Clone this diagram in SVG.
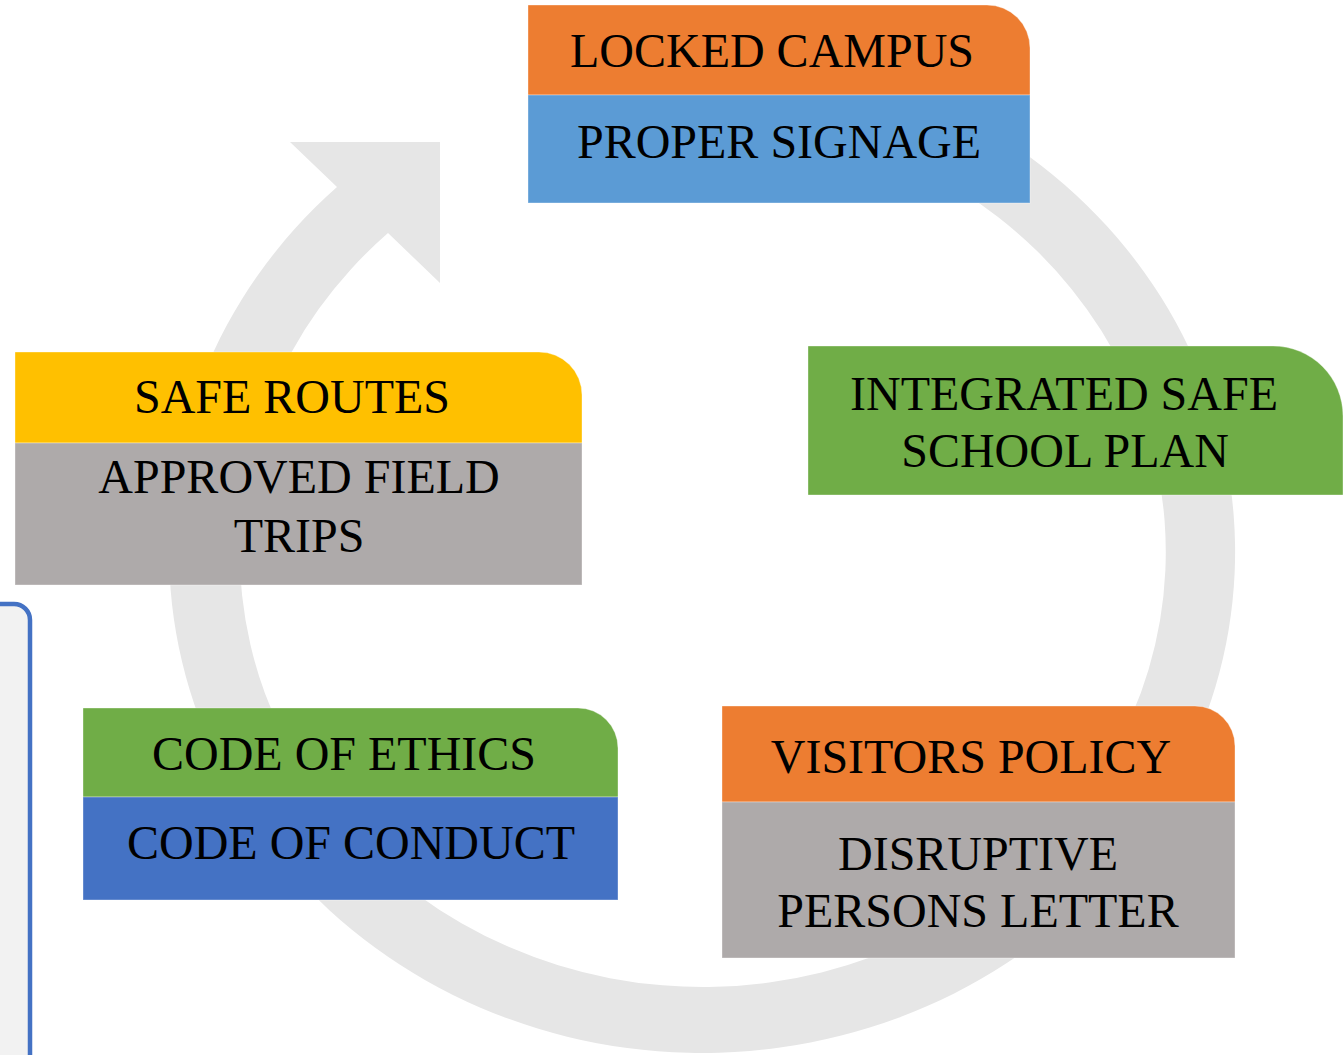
<svg xmlns="http://www.w3.org/2000/svg" width="1343" height="1055" viewBox="0 0 1343 1055">
<style>
.t{font-family:"Liberation Serif","Times New Roman",serif;font-size:48px;fill:#000;text-anchor:middle}
.edge{stroke:#ffffff;stroke-opacity:0.35;stroke-width:1}
</style>
<rect width="1343" height="1055" fill="#ffffff"/>
<g id="side-panel">
<rect x="-30" y="604" width="60" height="480" rx="16" fill="#F2F2F2" stroke="#4472C4" stroke-width="4.5"/>
</g>
<g id="connectors">
<path d="M702 51 A533 501 0 1 1 337 187 L290 142 L440 142 L440 283 L388 233 A463 435 0 1 0 702 117 Z" fill="#E6E6E6"/>
</g>
<g id="node-locked-campus">
<path class="edge" d="M528 5 H987 A43 43 0 0 1 1030 48 V95 H528 Z" fill="#ED7D31"/>
<rect class="edge" x="528" y="95" width="502" height="108" fill="#5B9BD5"/>
<text class="t" x="772" y="67">LOCKED CAMPUS</text>
<text class="t" x="779" y="158">PROPER SIGNAGE</text>
</g>
<g id="node-safe-routes">
<path class="edge" d="M15 352 H539 A43 43 0 0 1 582 395 V443 H15 Z" fill="#FFC000"/>
<rect class="edge" x="15" y="443" width="567" height="142" fill="#AEAAAA"/>
<text class="t" x="292" y="413">SAFE ROUTES</text>
<text class="t" x="299" y="493">APPROVED FIELD</text>
<text class="t" x="299" y="552">TRIPS</text>
</g>
<g id="node-integrated-plan">
<path class="edge" d="M808 346 H1273 A70 70 0 0 1 1343 416 V495 H808 Z" fill="#70AD47"/>
<text class="t" x="1064" y="410">INTEGRATED SAFE</text>
<text class="t" x="1065" y="467">SCHOOL PLAN</text>
</g>
<g id="node-code-of-ethics">
<path class="edge" d="M83 708 H578 A40 40 0 0 1 618 748 V797 H83 Z" fill="#70AD47"/>
<rect class="edge" x="83" y="797" width="535" height="103" fill="#4472C4"/>
<text class="t" x="344" y="770">CODE OF ETHICS</text>
<text class="t" x="351" y="859">CODE OF CONDUCT</text>
</g>
<g id="node-visitors-policy">
<path class="edge" d="M722 706 H1195 A40 40 0 0 1 1235 746 V802 H722 Z" fill="#ED7D31"/>
<rect class="edge" x="722" y="802" width="513" height="156" fill="#AEAAAA"/>
<text class="t" x="971" y="773">VISITORS POLICY</text>
<text class="t" x="978" y="870">DISRUPTIVE</text>
<text class="t" x="978" y="927">PERSONS LETTER</text>
</g>
</svg>
